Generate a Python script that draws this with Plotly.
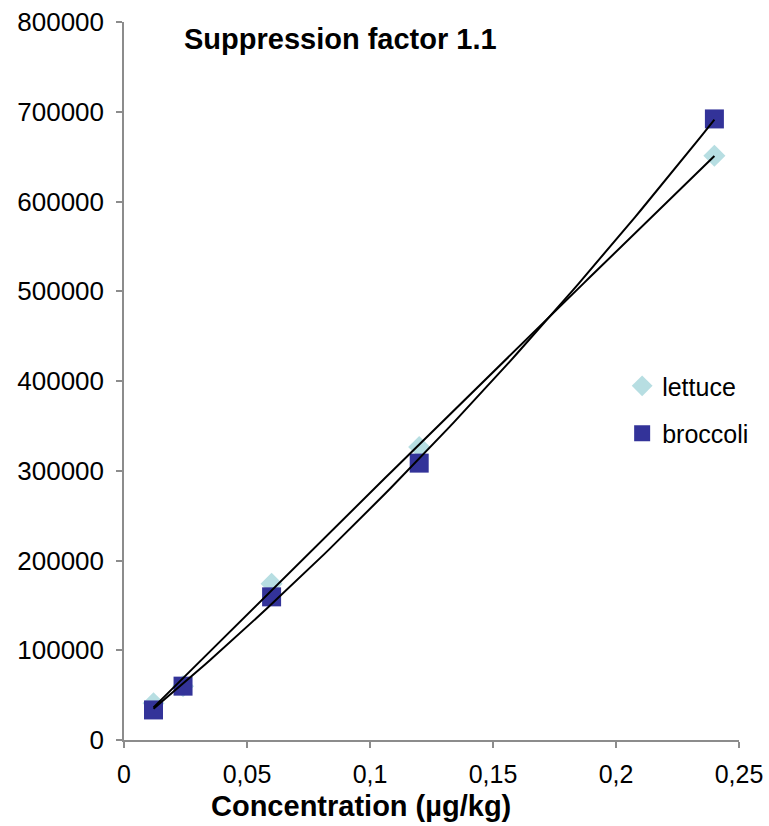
import numpy as np
import plotly.graph_objects as go

# data
lettuce_x = [0.012, 0.024, 0.06, 0.12, 0.24]
lettuce_y = [41000, 60000, 174000, 326500, 651000]
broccoli_x = [0.012, 0.024, 0.06, 0.12, 0.24]
broccoli_y = [33500, 60000, 159500, 308500, 692000]

title_text = "Suppression factor 1.1"
x_title = "Concentration (µg/kg)"

FONT = "Arial, 'Liberation Sans', sans-serif"

fig = go.Figure()

def trend(xs, ys):
    c = np.polyfit(xs, ys, 2)
    xx = np.linspace(min(xs), max(xs), 100)
    return xx, np.polyval(c, xx)

fig.add_trace(go.Scatter(x=lettuce_x, y=lettuce_y, mode="markers", name="lettuce",
                         legendgroup="a",
                         marker=dict(symbol="diamond", size=17, color="#B7DEE2")))
fig.add_trace(go.Scatter(x=broccoli_x, y=broccoli_y, mode="markers", name="broccoli",
                         legendgroup="b",
                         marker=dict(symbol="square", size=19, color="#333399")))

for xs, ys in [(lettuce_x, lettuce_y), (broccoli_x, broccoli_y)]:
    tx, ty = trend(xs, ys)
    fig.add_trace(go.Scatter(x=tx, y=ty, mode="lines", line=dict(color="black", width=2),
                             showlegend=False, hoverinfo="skip"))

axis_col = "#8C8C8C"
fig.update_layout(
    width=769, height=826,
    margin=dict(l=124, r=30, t=22, b=86, autoexpand=False),
    paper_bgcolor="white", plot_bgcolor="white",
    separators=",.",
    font=dict(family=FONT, size=25, color="black"),
    showlegend=True,
    legend=dict(x=0.81, y=0.525, xanchor="left", yanchor="top",
                font=dict(size=25, family=FONT), tracegroupgap=12,
                traceorder="grouped", bgcolor="rgba(0,0,0,0)"),
    xaxis=dict(range=[0, 0.25], dtick=0.05, tick0=0, showgrid=False, zeroline=False,
               showline=True, linecolor=axis_col, linewidth=1.5, automargin=False,
               ticks="outside", ticklen=6, tickcolor=axis_col, tickwidth=1.5,
               ticklabelstandoff=5,
               tickfont=dict(size=25, family=FONT)),
    yaxis=dict(range=[0, 800000], dtick=100000, tick0=0, showgrid=False, zeroline=False,
               showline=True, linecolor=axis_col, linewidth=1.5, automargin=False,
               ticks="outside", ticklen=6, tickcolor=axis_col, tickwidth=1.5,
               ticklabelstandoff=7,
               tickformat="d", tickfont=dict(size=26, family=FONT)),
    annotations=[
        dict(text="<b>" + title_text + "</b>", xref="paper", yref="paper",
             x=0.095, y=0.977, xanchor="left", yanchor="middle", showarrow=False,
             font=dict(size=29, family=FONT)),
        dict(text="<b>" + x_title + "</b>", xref="paper", yref="paper",
             x=(361 - 124) / 615, y=-(806 - 740) / 718, xanchor="center", yanchor="middle",
             showarrow=False, font=dict(size=29, family=FONT)),
    ],
)

fig.write_html("out.html")
